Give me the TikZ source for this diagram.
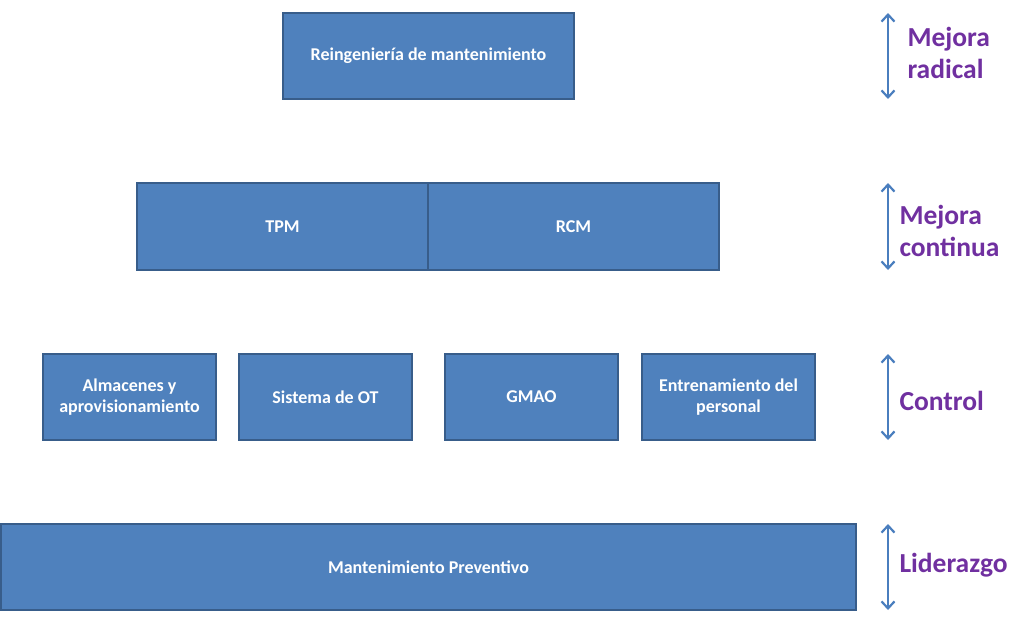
\documentclass[tikz,border=0pt]{standalone}
\usepackage{fontspec}
\setmainfont{Carlito}
\usepackage{xcolor}
\usetikzlibrary{positioning, arrows.meta}
\definecolor{boxfill}{RGB}{79,129,189}
\definecolor{boxline}{RGB}{56,93,138}
\definecolor{levelcol}{RGB}{112,48,160}
\definecolor{arrowcol}{RGB}{74,126,190}
\tikzset{
  block/.style={
    rectangle, draw=boxline, line width=1.6pt, fill=boxfill, text=white,
    outer sep=0pt, inner sep=2pt, align=center,
    font=\bfseries\fontsize{18}{21}\selectfont
  },
  wide/.style={block, minimum width=291pt, minimum height=86pt},
  small/.style={block, minimum width=173pt, minimum height=86pt},
  level/.style={anchor=west, align=left, text=levelcol,
    font=\bfseries\fontsize{27.5}{32}\selectfont},
  levelspan/.style={{Straight Barb[length=7pt,width=13pt]}-{Straight Barb[length=7pt,width=13pt]},
    draw=arrowcol, line width=2.2pt},
}
\begin{document}
\begin{tikzpicture}[x=1pt, y=-1pt]
  \useasboundingbox (0,0) rectangle (1024,624);

  % top level
  \node[wide] (reing) at (428.5,56) {Reingeniería de mantenimiento};

  % second level
  \node[wide, minimum height=87pt] (tpm) at (282.5,226.5) {TPM};
  \node[wide, minimum height=87pt, right=0pt of tpm] (rcm) {RCM};

  % third level
  \node[small] (alm) at (129.5,397) {Almacenes y\\aprovisionamiento};
  \node[small, right=23pt of alm] (ot) {Sistema de OT};
  \node[small, right=33pt of ot] (gmao) {GMAO};
  \node[small, right=24pt of gmao] (entr) {Entrenamiento del\\personal};

  % base
  \node[block, minimum width=855pt, minimum height=86pt] (prev) at (428.5,567) {Mantenimiento Preventivo};

  % levels on the right
  \coordinate (ax) at (888,0);
  \node[level] (radical) at (904,53) {Mejora\\radical};
  \node[level] (continua) at (896,231) {Mejora\\continua};
  \node[level] (control) at (896,401) {Control};
  \node[level] (lider) at (896,565) {Liderazgo};

  \draw[levelspan] (reing.north -| ax) -- (reing.south -| ax);
  \draw[levelspan] (tpm.north -| ax) -- (tpm.south -| ax);
  \draw[levelspan] (entr.north -| ax) -- (entr.south -| ax);
  \draw[levelspan] (prev.north -| ax) -- (prev.south -| ax);
\end{tikzpicture}
\end{document}
